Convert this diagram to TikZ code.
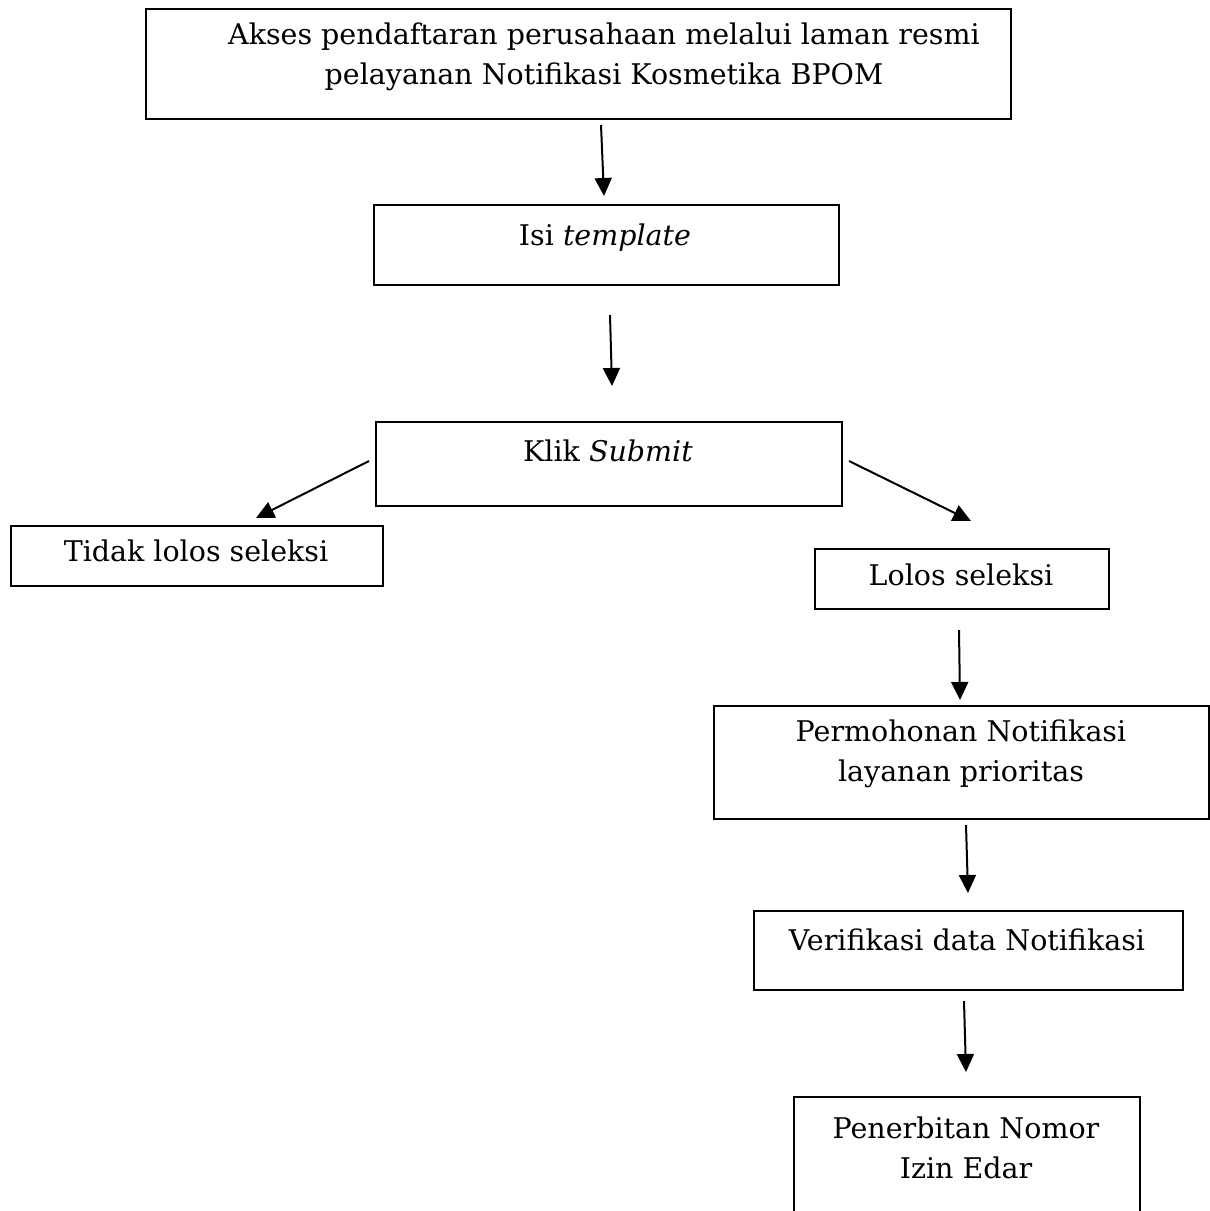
\documentclass[tikz,border=0pt]{standalone}
\usepackage{fontspec}
\setmainfont{DejaVu Serif}
\usetikzlibrary{arrows.meta,calc}
\begin{document}
\begin{tikzpicture}[x=1pt,y=-1pt,
  box/.style={draw=black,line width=2pt,inner sep=0pt,anchor=north west},
  lbl/.style={align=center,inner sep=0pt,font=\fontsize{28.5}{40}\selectfont},
  arr/.style={line width=2pt,-{Triangle[width=17pt,length=18pt]}}]
\clip (0,0) rectangle (1210,1211);
\fill[white] (0,0) rectangle (1210,1211);
\node[box,minimum width=865pt,minimum height=110pt] (b1) at (145,8) {};
\node[box,minimum width=465pt,minimum height=80pt] (b2) at (373,204) {};
\node[box,minimum width=466pt,minimum height=84pt] (b3) at (375,421) {};
\node[box,minimum width=372pt,minimum height=60pt] (b4) at (10,525) {};
\node[box,minimum width=294pt,minimum height=60pt] (b5) at (814,548) {};
\node[box,minimum width=495pt,minimum height=113pt] (b6) at (713,705) {};
\node[box,minimum width=429pt,minimum height=79pt] (b7) at (753,910) {};
\node[box,minimum width=346pt,minimum height=140pt] (b8) at (793,1096) {};
\node[lbl] (t1) at (604,57) {Akses pendaftaran perusahaan melalui laman resmi\\pelayanan Notifikasi Kosmetika BPOM};
\node[lbl] (t2) at (605,238) {Isi \textit{template}};
\node[lbl] (t3) at (608,451) {Klik \textit{Submit}};
\node[lbl] (t4) at (196,551) {Tidak lolos seleksi};
\node[lbl] (t5) at (961,575) {Lolos seleksi};
\node[lbl] (t6) at (961,754) {Permohonan Notifikasi\\layanan prioritas};
\node[lbl] (t7) at (967,940) {Verifikasi data Notifikasi};
\node[lbl] (t8) at (966,1148) {Penerbitan Nomor\\Izin Edar};
\draw[arr] ($(b1.south)+(22.5,5)$) -- ($(b2.north)+(-2.5,-8)$);
\draw[arr] ($(b2.south)+(3.5,29)$) -- ($(b3.north)+(3,-35)$);
\draw[arr] ($(b3.west)+(-6,-3)$) -- ($(b4.north)+(59,-7)$);
\draw[arr] ($(b3.east)+(6,-3)$) -- ($(b5.north)+(9,-27)$);
\draw[arr] ($(b5.south)+(-3,20)$) -- ($(b6.north)+(-1.5,-5)$);
\draw[arr] ($(b6.south)+(4.5,5)$) -- ($(b7.north)+(-0.5,-17)$);
\draw[arr] ($(b7.south)+(-4.5,10)$) -- ($(b8.north)+(-1,-24)$);
\end{tikzpicture}
\end{document}
